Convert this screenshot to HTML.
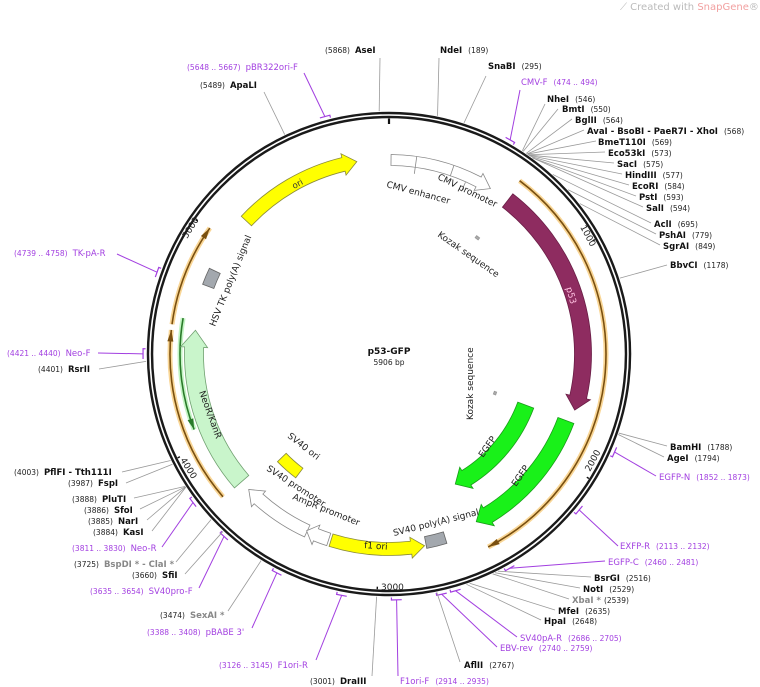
<!DOCTYPE html>
<html><head><meta charset="utf-8"><style>
html,body{margin:0;padding:0;background:#fff;width:760px;height:687px;overflow:hidden}
svg text{font-family:"DejaVu Sans","Liberation Sans",sans-serif}
.n{font-weight:bold;font-size:8.5px;fill:#111}
.p{font-size:7.5px;fill:#222}
.g{font-weight:bold;font-size:8.5px;fill:#888}
.gp{font-size:7.5px;fill:#777}
.pu{font-size:8.5px;fill:#a23fe0}
.pup{font-size:7.5px;fill:#a23fe0}
.f{font-size:9px;fill:#222}
</style></head><body>
<svg id="s" width="760" height="687" viewBox="0 0 760 687" xmlns="http://www.w3.org/2000/svg">
<g id="lines"></g>
<g id="feat"></g>
<circle cx="389" cy="354" r="239" fill="none" stroke="#1a1a1a" stroke-width="6.5"/>
<circle cx="389" cy="354" r="239" fill="none" stroke="#fff" stroke-width="1.6"/>
<g id="ticks"></g>

<text x="620" y="10" font-size="10" fill="#bbb">⟋ Created with <tspan fill="#f2a0a0">SnapGene</tspan>®</text>

<text x="389" y="354" text-anchor="middle" font-weight="bold" font-size="9" fill="#111">p53-GFP</text>
<text x="389" y="365" text-anchor="middle" font-size="7.5" fill="#222">5906 bp</text>

<!-- tick labels -->
<text class="f" font-size="8.5" transform="translate(580,227) rotate(62)">1000</text>
<text class="f" font-size="8.5" transform="translate(590,472) rotate(-62)">2000</text>
<text class="f" font-size="8.5" x="381" y="590">3000</text>
<text class="f" font-size="8.5" transform="translate(180,460) rotate(58)">4000</text>
<text class="f" font-size="8.5" transform="translate(187,239) rotate(-58)">5000</text>

<!-- feature labels -->
<text font-size="8.5" fill="#333" transform="translate(294,189) rotate(-28)">ori</text>
<text class="f" transform="translate(386,187) rotate(15)">CMV enhancer</text>
<text class="f" transform="translate(437,179) rotate(26)">CMV promoter</text>
<text class="f" transform="translate(437,236) rotate(35)">Kozak sequence</text>
<text font-size="9" fill="#ffc0e0" transform="translate(566,288) rotate(74)">p53</text>
<text class="f" transform="translate(473,420) rotate(-90)">Kozak sequence</text>
<text class="f" font-size="9.5" transform="translate(483,458) rotate(-55)">EGFP</text>
<text class="f" font-size="9.5" transform="translate(516,487) rotate(-55)">EGFP</text>
<text class="f" transform="translate(215,327) rotate(-68)">HSV TK poly(A) signal</text>
<text font-size="9" fill="#222" transform="translate(199,392) rotate(70)">NeoR/KanR</text>
<text class="f" transform="translate(287,437) rotate(38)">SV40 ori</text>
<text class="f" transform="translate(266,470) rotate(33)">SV40 promoter</text>
<text class="f" transform="translate(292,499) rotate(22)">AmpR promoter</text>
<text font-size="9" fill="#222" transform="translate(364,548) rotate(4)">f1 ori</text>
<text class="f" transform="translate(394,536) rotate(-14)">SV40 poly(A) signal</text>

<!-- site labels right/top -->
<text x="325" y="53"><tspan class="p">(5868)</tspan><tspan class="n" dx="5">AseI</tspan></text>
<text x="440" y="53"><tspan class="n">NdeI</tspan><tspan class="p" dx="6">(189)</tspan></text>
<text x="488" y="69"><tspan class="n">SnaBI</tspan><tspan class="p" dx="6">(295)</tspan></text>
<text x="521" y="85"><tspan class="pu">CMV-F</tspan><tspan class="pup" dx="6">(474 .. 494)</tspan></text>
<text x="547" y="102"><tspan class="n">NheI</tspan><tspan class="p" dx="6">(546)</tspan></text>
<text x="562" y="112"><tspan class="n">BmtI</tspan><tspan class="p" dx="6">(550)</tspan></text>
<text x="575" y="123"><tspan class="n">BglII</tspan><tspan class="p" dx="6">(564)</tspan></text>
<text x="587" y="134"><tspan class="n">AvaI</tspan><tspan class="n" dx="3">- BsoBI</tspan><tspan class="n" dx="3">- PaeR7I</tspan><tspan class="n" dx="3">- XhoI</tspan><tspan class="p" dx="6">(568)</tspan></text>
<text x="598" y="145"><tspan class="n">BmeT110I</tspan><tspan class="p" dx="6">(569)</tspan></text>
<text x="608" y="156"><tspan class="n">Eco53kI</tspan><tspan class="p" dx="6">(573)</tspan></text>
<text x="617" y="167"><tspan class="n">SacI</tspan><tspan class="p" dx="6">(575)</tspan></text>
<text x="625" y="178"><tspan class="n">HindIII</tspan><tspan class="p" dx="6">(577)</tspan></text>
<text x="632" y="189"><tspan class="n">EcoRI</tspan><tspan class="p" dx="6">(584)</tspan></text>
<text x="639" y="200"><tspan class="n">PstI</tspan><tspan class="p" dx="6">(593)</tspan></text>
<text x="646" y="211"><tspan class="n">SalI</tspan><tspan class="p" dx="6">(594)</tspan></text>
<text x="654" y="227"><tspan class="n">AclI</tspan><tspan class="p" dx="6">(695)</tspan></text>
<text x="659" y="238"><tspan class="n">PshAI</tspan><tspan class="p" dx="6">(779)</tspan></text>
<text x="663" y="249"><tspan class="n">SgrAI</tspan><tspan class="p" dx="6">(849)</tspan></text>
<text x="670" y="268"><tspan class="n">BbvCI</tspan><tspan class="p" dx="6">(1178)</tspan></text>
<text x="670" y="450"><tspan class="n">BamHI</tspan><tspan class="p" dx="6">(1788)</tspan></text>
<text x="667" y="461"><tspan class="n">AgeI</tspan><tspan class="p" dx="6">(1794)</tspan></text>
<text x="659" y="480"><tspan class="pu">EGFP-N</tspan><tspan class="pup" dx="6">(1852 .. 1873)</tspan></text>
<text x="620" y="549"><tspan class="pu">EXFP-R</tspan><tspan class="pup" dx="6">(2113 .. 2132)</tspan></text>
<text x="608" y="565"><tspan class="pu">EGFP-C</tspan><tspan class="pup" dx="6">(2460 .. 2481)</tspan></text>
<text x="594" y="581"><tspan class="n">BsrGI</tspan><tspan class="p" dx="6">(2516)</tspan></text>
<text x="583" y="592"><tspan class="n">NotI</tspan><tspan class="p" dx="6">(2529)</tspan></text>
<text x="572" y="603"><tspan class="g">XbaI *</tspan><tspan class="p" dx="3">(2539)</tspan></text>
<text x="558" y="614"><tspan class="n">MfeI</tspan><tspan class="p" dx="6">(2635)</tspan></text>
<text x="544" y="624"><tspan class="n">HpaI</tspan><tspan class="p" dx="6">(2648)</tspan></text>
<text x="520" y="641"><tspan class="pu">SV40pA-R</tspan><tspan class="pup" dx="6">(2686 .. 2705)</tspan></text>
<text x="500" y="651"><tspan class="pu">EBV-rev</tspan><tspan class="pup" dx="6">(2740 .. 2759)</tspan></text>
<text x="464" y="668"><tspan class="n">AflII</tspan><tspan class="p" dx="6">(2767)</tspan></text>
<text x="400" y="684"><tspan class="pu">F1ori-F</tspan><tspan class="pup" dx="6">(2914 .. 2935)</tspan></text>

<!-- left/bottom -->
<text x="310" y="684"><tspan class="p">(3001)</tspan><tspan class="n" dx="5">DraIII</tspan></text>
<text x="219" y="668"><tspan class="pup">(3126 .. 3145)</tspan><tspan class="pu" dx="5">F1ori-R</tspan></text>
<text x="147" y="635"><tspan class="pup">(3388 .. 3408)</tspan><tspan class="pu" dx="5">pBABE 3'</tspan></text>
<text x="160" y="618"><tspan class="p">(3474)</tspan><tspan class="g" dx="5">SexAI *</tspan></text>
<text x="90" y="594"><tspan class="pup">(3635 .. 3654)</tspan><tspan class="pu" dx="5">SV40pro-F</tspan></text>
<text x="132" y="578"><tspan class="p">(3660)</tspan><tspan class="n" dx="5">SfiI</tspan></text>
<text x="74" y="567"><tspan class="p">(3725)</tspan><tspan class="g" dx="5">BspDI * - ClaI *</tspan></text>
<text x="72" y="551"><tspan class="pup">(3811 .. 3830)</tspan><tspan class="pu" dx="5">Neo-R</tspan></text>
<text x="93" y="535"><tspan class="p">(3884)</tspan><tspan class="n" dx="5">KasI</tspan></text>
<text x="88" y="524"><tspan class="p">(3885)</tspan><tspan class="n" dx="5">NarI</tspan></text>
<text x="84" y="513"><tspan class="p">(3886)</tspan><tspan class="n" dx="5">SfoI</tspan></text>
<text x="72" y="502"><tspan class="p">(3888)</tspan><tspan class="n" dx="5">PluTI</tspan></text>
<text x="68" y="486"><tspan class="p">(3987)</tspan><tspan class="n" dx="5">FspI</tspan></text>
<text x="14" y="475"><tspan class="p">(4003)</tspan><tspan class="n" dx="5">PflFI</tspan><tspan class="n" dx="3">- Tth111I</tspan></text>
<text x="38" y="372"><tspan class="p">(4401)</tspan><tspan class="n" dx="5">RsrII</tspan></text>
<text x="7" y="356"><tspan class="pup">(4421 .. 4440)</tspan><tspan class="pu" dx="5">Neo-F</tspan></text>
<text x="14" y="256"><tspan class="pup">(4739 .. 4758)</tspan><tspan class="pu" dx="5">TK-pA-R</tspan></text>
<text x="200" y="88"><tspan class="p">(5489)</tspan><tspan class="n" dx="5">ApaLI</tspan></text>
<text x="187" y="70"><tspan class="pup">(5648 .. 5667)</tspan><tspan class="pu" dx="5">pBR322ori-F</tspan></text>
</svg>
<script>
var CX=389,CY=354,NS="http://www.w3.org/2000/svg";
function P(a,r){var t=a*Math.PI/180;return [CX+r*Math.sin(t),CY-r*Math.cos(t)];}
function el(g,tag,at){var e=document.createElementNS(NS,tag);for(var k in at)e.setAttribute(k,at[k]);document.getElementById(g).appendChild(e);return e;}
function arc(r,a1,a2){var p=P(a2,r),large=Math.abs(a2-a1)>180?1:0,sw=a2>a1?1:0;return "A"+r+","+r+" 0 "+large+","+sw+" "+p[0].toFixed(2)+","+p[1].toFixed(2);}
function arrow(r,a1,a2,w,head,fill,stroke){
  var d=a2>a1?1:-1,ah=a2-d*head,ro=r+w/2,ri=r-w/2;
  if(head<=0)ah=a2;
  var s="M"+P(a1,ro).join(",")+arc(ro,a1,ah);
  if(head>0){s+="L"+P(ah,ro+4).join(",")+"L"+P(a2,r).join(",")+"L"+P(ah,ri-4).join(",")+"L"+P(ah,ri).join(",");}
  else s+="L"+P(a2,ri).join(",");
  s+=arc(ri,ah,a1)+"Z";
  return el("feat","path",{d:s,fill:fill,stroke:stroke,"stroke-width":0.8});
}
function thin(r,a1,a2,col,halo){
  var d=a2>a1?1:-1,ah=a2-d*3;
  var s="M"+P(a1,r).join(",")+arc(r,a1,a2);
  el("feat","path",{d:s,fill:"none",stroke:halo,"stroke-width":5,"stroke-opacity":0.7});
  el("feat","path",{d:s,fill:"none",stroke:col,"stroke-width":1.6});
  el("feat","path",{d:"M"+P(ah,r+3).join(",")+"L"+P(a2,r).join(",")+"L"+P(ah,r-3).join(",")+"Z",fill:col});
}
// features
arrow(195,313,350.5,14,4,"#ffff00","#8a8a3a");
arrow(194,0.6,31.5,11,4,"#fff","#888");
el("feat","path",{d:"M"+P(19,188).join(",")+"L"+P(19,199.5).join(","),stroke:"#888","stroke-width":0.8});
el("feat","path",{d:"M"+P(8,199.5).join(",")+"L"+P(8,182).join(","),stroke:"#888","stroke-width":0.8});
el("feat","path",{d:"M"+P(24,188).join(",")+"L"+P(24,178).join(","),stroke:"#888","stroke-width":0.8});
arrow(194,37.7,106.8,17,4,"#8e2c60","#6a1e46");
arrow(189,110.6,152.5,17,4,"#19f119","#1a9a1a");
arrow(146,110.5,153,17,5,"#19f119","#1a9a1a");
thin(217,37,152.8,"#7a5010","#f7c46a");
thin(219,229.3,276.3,"#7a5010","#f7c46a");
thin(219,277.8,305.1,"#7a5010","#f7c46a");
thin(209,279.9,248.8,"#2a7a2a","#aaf0aa");
arrow(195,229.1,277,19,5,"#c9f5cb","#70a070");
arrow(195,204.8,226,13,4,"#fff","#888");
arrow(195,198,205,13,3,"#fff","#888");
arrow(195,197.3,169.5,13,4,"#ffff00","#8a8a3a");
arrow(192,163,169,12,0,"#a3a8ae","#666");
arrow(193,290.5,295.5,12,0,"#a3a8ae","#666");
arrow(149,217,226,12,0,"#ffff00","#8a8a3a");
arrow(146,36.5,38,2.5,0,"#aaa","#999");
arrow(113,109.5,111,2.5,0,"#aaa","#999");
// ticks
[0,1000,2000,3000,4000,5000].forEach(function(b){var a=b/5906*360;var r2=b==0?230:233;
 el("ticks","path",{d:"M"+P(a,235.5).join(",")+"L"+P(a,r2).join(","),stroke:"#111","stroke-width":b==0?2.2:1.4});});
// connectors
var L=[[5868,380,58],[189,439,58],[295,486,76],[484,520,90,1],[546,545,104],[550,558,109],[564,572,119],[568,584,130],[569,596,141],[573,605,152],[575,614,163],[577,622,174],[584,629,185],[593,636,196],[594,643,207],[695,651,223],[779,656,234],[849,660,245],[1178,667,265],
[1788,667,446],[1794,664,457],[1862,656,476,1],[2122,618,546,1],[2470,605,561,1],[2516,591,577],[2529,580,588],[2539,569,599],[2635,555,610],[2648,541,620],[2695,517,637,1],[2750,497,647,1],[2767,460,662],[2924,398,676,1],[3001,372,676],[3135,316,660,1],[3398,252,628,1],[3474,228,611],[3644,199,588,1],[3660,185,574],[3725,176,562],[3820,162,547,1],[3884,152,531],[3885,147,520],[3886,140,509],[3888,134,498],[3987,126,483],[4003,122,472],[4401,99,369],[4430,98,353,1],[4748,117,254,1],[5489,264,92],[5658,304,73,1]];
L.forEach(function(l){var a=l[0]/5906*360,pu=l[3];var p=P(a,pu?246:243);
 el("lines","path",{d:"M"+p.join(",")+"L"+l[1]+","+l[2],stroke:pu?"#a23fe0":"#999","stroke-width":pu?1:0.8,fill:"none"});
 if(pu){var q1=P(a-1.2,246),q2=P(a+1.2,246);el("lines","path",{d:"M"+q1.join(",")+"L"+q2.join(",")+"L"+P(a+1.2,243.5).join(","),stroke:"#a23fe0","stroke-width":1.2,fill:"none"});}
});
</script>
</body></html>
